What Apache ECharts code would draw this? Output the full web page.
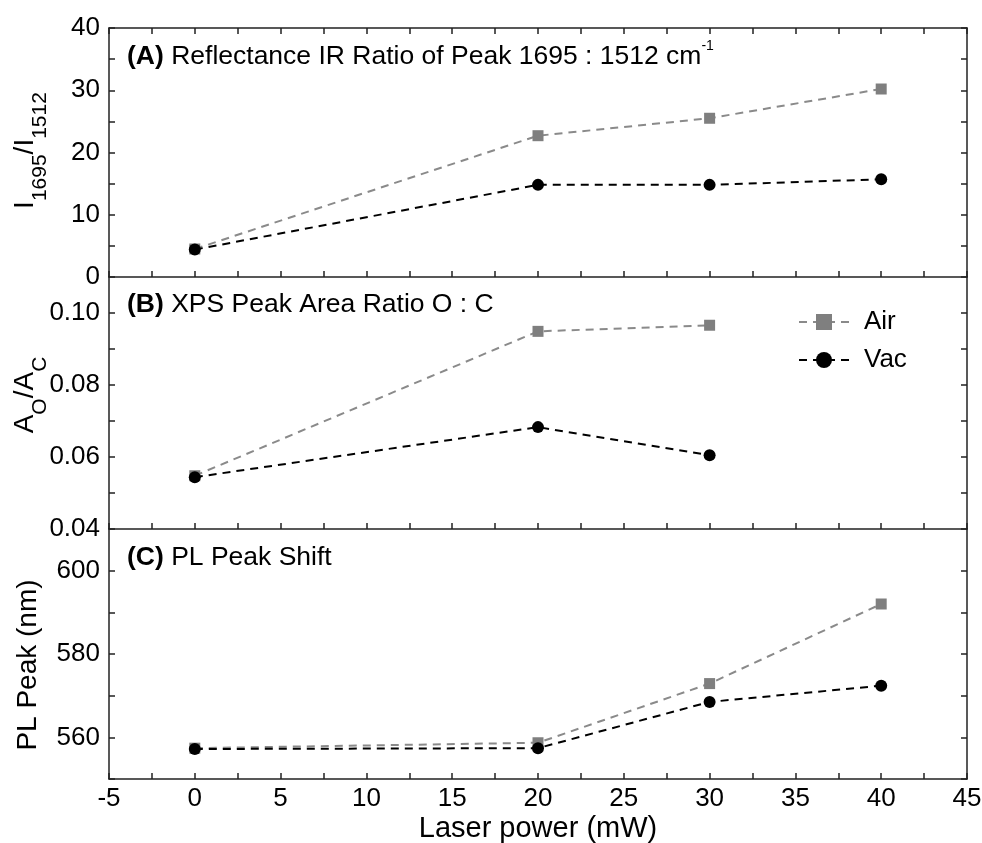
<!DOCTYPE html>
<html>
<head>
<meta charset="utf-8">
<script src="https://cdn.jsdelivr.net/npm/echarts@6/dist/echarts.min.js"></script>
<style>
  html, body { margin: 0; padding: 0; background: #fff; }
  #chart { width: 982px; height: 843px; }
</style>
</head>
<body>
<div id="chart"></div>
<script>
// Laser power (mW) at which each sample was measured
const powerIR = [0, 20, 30, 40];
const powerXPS = [0, 20, 30];
const powerPL = [0, 20, 30, 40];

// (A) reflectance IR intensity ratio I1695 / I1512
const irAir = [4.5, 22.7, 25.5, 30.2];
const irVac = [4.4, 14.8, 14.8, 15.7];

// (B) XPS peak area ratio O : C
const xpsAir = [0.0548, 0.0949, 0.0966];
const xpsVac = [0.0544, 0.0683, 0.0605];

// (C) photoluminescence peak position (nm)
const plAir = [557.4, 558.7, 572.9, 592.0];
const plVac = [557.2, 557.4, 568.5, 572.4];

// labelled tick values
const xTickLabels = [-5, 0, 5, 10, 15, 20, 25, 30, 35, 40, 45];
const yTickLabelsA = [0, 10, 20, 30, 40];
const yTickLabelsB = [0.04, 0.06, 0.08, 0.10];
const yTickLabelsC = [560, 580, 600];

const FONT = "'Liberation Sans', Arial, sans-serif";
const AXIS_COLOR = '#222';
const AIR_MARK = '#7f7f7f';
const AIR_LINE = '#8a8a8a';
const VAC_COLOR = '#000';

function pairs(xs, ys) { return xs.map((x, i) => [x, ys[i]]); }

function labelFormatter(list, digits) {
  return function (v) {
    for (const t of list) {
      if (Math.abs(t - v) < 1e-9 + Math.abs(t) * 1e-6) return t.toFixed(digits);
    }
    return '';
  };
}

const tickBase = { show: true, inside: true, length: 6, lineStyle: { color: AXIS_COLOR, width: 1.5 } };
const lineBase = { show: true, onZero: false, lineStyle: { color: AXIS_COLOR, width: 1.5 } };
const labelBase = { color: '#000', fontSize: 26, fontFamily: FONT };

function xAxisDef(gridIndex, position, withLabels) {
  return {
    type: 'value', gridIndex, position,
    min: -5, max: 45, interval: 2.5,
    axisLine: lineBase, axisTick: tickBase,
    splitLine: { show: false },
    axisLabel: withLabels
      ? Object.assign({ show: true, margin: 7, formatter: labelFormatter(xTickLabels, 0) }, labelBase)
      : { show: false },
    name: withLabels ? 'Laser power (mW)' : '',
    nameLocation: 'middle', nameGap: 35, nameMoveOverlap: false,
    nameTextStyle: { color: '#000', fontSize: 29, fontFamily: FONT, lineHeight: 30 }
  };
}

function yAxisPair(gridIndex, min, max, interval, labels, digits, name, nameGap, nameStyle) {
  const left = {
    type: 'value', gridIndex, position: 'left',
    min, max, interval,
    axisLine: lineBase, axisTick: tickBase,
    splitLine: { show: false },
    axisLabel: Object.assign({ show: true, margin: 9, formatter: labelFormatter(labels, digits) }, labelBase),
    name, nameLocation: 'middle', nameRotate: 90, nameGap, nameMoveOverlap: false,
    nameTextStyle: Object.assign({ color: '#000', fontSize: 28, fontFamily: FONT }, nameStyle)
  };
  const right = {
    type: 'value', gridIndex, position: 'right',
    min, max, interval,
    axisLine: lineBase, axisTick: tickBase,
    splitLine: { show: false },
    axisLabel: { show: false }
  };
  return [left, right];
}

// rich text styles for subscripted axis titles
function subRich(padding) {
  return {
    lineHeight: 52,
    padding,
    rich: {
      m: { fontSize: 28, fontFamily: FONT, color: '#000', lineHeight: 52 },
      s: { fontSize: 21, fontFamily: FONT, color: '#000', lineHeight: 21, verticalAlign: 'bottom' }
    }
  };
}

const yA = yAxisPair(0, 0, 40, 5, yTickLabelsA, 0, '{m|I}{s|1695}{m|/I}{s|1512}', 58, subRich([0, 0, 0, 4]));
const yB = yAxisPair(1, 0.04, 0.11, 0.01, yTickLabelsB, 2, '{m|A}{s|O}{m|/A}{s|C}', 58, subRich([0, 0, 0, 16]));
const yC = yAxisPair(2, 550, 610, 10, yTickLabelsC, 0, 'PL Peak (nm)', 66, { lineHeight: 30, padding: [0, 22, 0, 0] });

function panelTitle(text, top) {
  return {
    text, left: 127, top, padding: 0,
    textStyle: {
      color: '#000', fontSize: 26.5, fontWeight: 'normal', fontFamily: FONT, lineHeight: 36,
      rich: {
        b: { fontWeight: 'bold', fontSize: 26.5, fontFamily: FONT, color: '#000', lineHeight: 36 },
        sup: { fontSize: 14, fontFamily: FONT, color: '#000', lineHeight: 12, verticalAlign: 'top' }
      }
    }
  };
}

function lineSeries(name, xi, yi, data, isAir) {
  return {
    name, type: 'line', xAxisIndex: xi, yAxisIndex: yi,
    data,
    symbol: isAir ? 'rect' : 'circle',
    symbolSize: isAir ? 11 : 12,
    itemStyle: { color: isAir ? AIR_MARK : VAC_COLOR },
    lineStyle: { color: isAir ? AIR_LINE : VAC_COLOR, width: 2, type: [8, 6] },
    z: isAir ? 2 : 3
  };
}

const gridBase = { left: 109, right: 15, outerBoundsMode: 'none', containLabel: false };

const chart = echarts.init(document.getElementById('chart'), null, { renderer: 'canvas' });
chart.setOption({
  animation: false,
  backgroundColor: '#fff',
  title: [
    panelTitle('{b|(A)} Reflectance IR Ratio of Peak 1695 : 1512 cm{sup|-1}', 39),
    panelTitle('{b|(B)} XPS Peak Area Ratio O : C', 287),
    panelTitle('{b|(C)} PL Peak Shift', 540)
  ],
  legend: {
    data: ['Air', 'Vac'],
    orient: 'vertical',
    left: 793, top: 304,
    itemWidth: 50, itemHeight: 20, itemGap: 12,
    textStyle: { color: '#000', fontSize: 26, fontFamily: FONT, padding: [0, 0, 0, 10] }
  },
  grid: [
    Object.assign({ top: 28, height: 249 }, gridBase),
    Object.assign({ top: 277, height: 252 }, gridBase),
    Object.assign({ top: 529, height: 250 }, gridBase)
  ],
  xAxis: [
    xAxisDef(0, 'bottom', false),
    xAxisDef(0, 'top', false),
    xAxisDef(1, 'bottom', false),
    xAxisDef(2, 'bottom', true)
  ],
  yAxis: [yA[0], yA[1], yB[0], yB[1], yC[0], yC[1]],
  series: [
    lineSeries('Air', 0, 0, pairs(powerIR, irAir), true),
    lineSeries('Vac', 0, 0, pairs(powerIR, irVac), false),
    lineSeries('Air', 2, 2, pairs(powerXPS, xpsAir), true),
    lineSeries('Vac', 2, 2, pairs(powerXPS, xpsVac), false),
    lineSeries('Air', 3, 4, pairs(powerPL, plAir), true),
    lineSeries('Vac', 3, 4, pairs(powerPL, plVac), false)
  ]
});
</script>
</body>
</html>
